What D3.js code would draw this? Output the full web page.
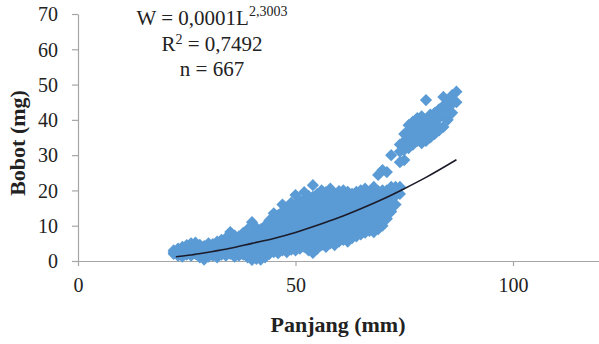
<!DOCTYPE html>
<html>
<head>
<meta charset="utf-8">
<script src="https://cdn.jsdelivr.net/npm/d3@7"></script>
<style>
  html, body { margin: 0; padding: 0; background: #fff; }
  svg { display: block; }
  text { font-family: "Liberation Serif", "Times New Roman", serif; fill: #222; }
</style>
</head>
<body>
<svg id="chart" width="599" height="344"></svg>
<script>
// ---- Data ----
const panjangKelas = [22,23,24,25,26,27,28,29,30,31,32,33,34,35,36,37,38,39,40,41,42,43,44,45,46,47,48,49,50,51,52,53,54,55,56,57,58,59,60,61,62,63,64,65,66,67,68,69,70,71,72,73,74,75,76,77,78,79,80,81,82,83,84,85,86,87];
const bobotKelas = [
  [2.0,3.0,2.5],
  [1.5,2.8,3.5,2.2],
  [1.2,3.2,2.0,4.0],
  [1.8,3.0,4.5,2.4],
  [2.2,5.0,3.5,1.5],
  [2.0,4.0,3.0,5.2],
  [1.0,3.5,2.5,4.6],
  [0.4,2.8,4.2,3.5,1.8],
  [2.0,3.6,5.0,1.2,4.4],
  [1.5,3.0,4.8,2.4],
  [2.0,4.0,5.5,3.0,1.0],
  [2.5,3.5,5.0,6.0,1.8],
  [1.5,3.0,4.5,6.5,2.2,5.4],
  [2.0,4.0,5.5,8.2,3.0,6.5],
  [1.2,3.0,4.8,6.0,7.2,2.4],
  [2.5,4.0,5.5,7.0,1.5,3.4],
  [1.8,3.5,5.0,6.5,8.0,2.6,4.4],
  [1.0,3.0,4.5,6.0,7.5,9.0,2.0,5.4],
  [0.3,2.5,4.0,5.5,7.0,11.0,8.4,3.2],
  [0.6,2.0,3.8,5.0,6.8,8.0,9.4,4.4],
  [0.4,1.5,3.0,4.5,6.0,7.5,9.0,2.4,5.4],
  [1.0,2.8,4.0,5.6,7.0,8.5,10.0,3.4,6.2],
  [2.0,3.5,5.0,6.5,8.0,9.5,11.5,4.2,7.2],
  [2.5,4.0,5.5,7.0,8.5,10.0,12.0,13.5,6.2],
  [2.2,3.8,5.2,6.8,8.2,9.8,11.2,13.0,4.6,7.4],
  [3.0,4.5,6.0,7.5,9.0,10.5,12.0,14.0,16.0,5.2],
  [2.5,4.0,5.5,7.0,8.5,10.0,11.5,13.0,14.5,6.2,9.2],
  [3.2,4.8,6.4,8.0,9.6,11.2,12.8,14.4,16.5,5.6],
  [3.0,4.5,6.0,7.5,9.0,10.5,12.0,13.5,15.0,18.7,8.2],
  [3.5,5.0,6.5,8.0,9.5,11.0,12.5,14.0,15.5,17.0,7.2],
  [4.0,5.5,7.0,8.5,10.0,11.5,13.0,14.5,16.0,17.5,19.5,9.2],
  [3.0,4.8,6.4,8.0,9.6,11.2,12.8,14.4,16.0,17.6,18.5],
  [2.3,4.2,6.0,7.8,9.5,11.2,13.0,14.8,16.5,18.2,21.5],
  [3.5,5.2,7.0,8.8,10.5,12.2,14.0,15.8,17.5,19.0],
  [4.5,6.2,8.0,9.8,11.5,13.2,15.0,16.8,18.5,20.0],
  [4.0,5.8,7.6,9.4,11.2,13.0,14.8,16.6,18.4,19.5],
  [5.0,6.8,8.6,10.4,12.2,14.0,15.8,17.6,19.4,20.5],
  [4.5,6.4,8.2,10.0,11.8,13.6,15.4,17.2,19.0],
  [5.5,7.2,9.0,10.8,12.6,14.4,16.2,18.0,19.8],
  [6.0,7.8,9.6,11.4,13.2,15.0,16.8,18.6,20.0],
  [5.5,7.4,9.2,11.0,12.8,14.6,16.4,18.2,19.6],
  [6.5,8.2,10.0,11.8,13.6,15.4,17.2,19.0],
  [7.0,8.8,10.6,12.4,14.2,16.0,17.8,19.6],
  [7.5,9.2,11.0,12.8,14.6,16.4,18.2,20.0],
  [8.0,9.8,11.6,13.4,15.2,17.0,18.8,20.5],
  [8.5,10.2,12.0,13.8,15.6,17.4,19.2],
  [8.2,10.0,11.8,13.6,15.4,17.2,19.0,21.0],
  [9.0,10.8,12.6,14.4,16.2,18.0,19.8,24.4],
  [10.0,12.0,14.0,16.0,18.0,20.0,25.8],
  [12.0,14.0,16.0,18.0,20.0,25.2],
  [14.0,16.5,19.0,21.0,30.0],
  [16.0,18.5,21.0],
  [19.0,21.0,28.0,31.0,33.0],
  [28.6,31.5,34.0,36.0],
  [32.0,34.5,37.0,38.5],
  [33.0,35.0,37.0,39.5],
  [34.0,36.0,38.0,40.5,35.0],
  [33.4,35.5,37.5,39.5,41.0],
  [34.0,36.0,38.0,40.0,45.6],
  [35.0,37.0,39.0,41.5],
  [36.0,38.0,40.0,42.0],
  [37.0,38.0,40.5,43.0],
  [38.0,41.0,44.0,46.5],
  [40.0,43.0,45.5],
  [42.0,44.5,47.0],
  [45.0,48.0]
];
// Trend line (power fit) points
const trenPanjang = [22.5, 26, 30, 35, 40, 45, 50, 55, 60, 65, 70, 75, 80, 87];
const trenBobot   = [1.2, 1.7, 2.5, 3.6, 5.0, 6.4, 8.1, 10.1, 12.3, 14.8, 17.5, 20.5, 23.7, 28.7];
const xTicks = [0, 50, 100];
const yTicks = [0, 10, 20, 30, 40, 50, 60, 70];
const labelX = "Panjang (mm)";
const labelY = "Bobot (mg)";

// ---- Build ----
const points = [];
panjangKelas.forEach((p, i) => bobotKelas[i].forEach(b => points.push({p, b})));
const tren = trenPanjang.map((p, i) => ({p, b: trenBobot[i]}));

const svg = d3.select("#chart");
const x = d3.scaleLinear().domain([0, 120]).range([78, 600]);
const y = d3.scaleLinear().domain([0, 70]).range([261, 14]);

// Axes
const gy = svg.append("g").attr("transform", `translate(${x(0)},0)`)
  .call(d3.axisLeft(y).tickValues(yTicks).tickSize(6).tickSizeOuter(0).tickPadding(14));
const gx = svg.append("g").attr("transform", `translate(0,${y(0)})`)
  .call(d3.axisBottom(x).tickValues(xTicks).tickSize(5).tickSizeOuter(0).tickPadding(22));
[gx, gy].forEach(g => {
  g.select(".domain").attr("stroke", "#a6a6a6").attr("stroke-width", 1.2);
  g.selectAll(".tick line").attr("stroke", "#a6a6a6").attr("stroke-width", 1.2);
  g.selectAll(".tick text").style("font-family", "'Liberation Serif', serif")
    .style("font-size", "20px").attr("fill", "#222");
});
gy.selectAll(".tick text").attr("dy", "0.34em");
gx.selectAll(".tick text").attr("dy", "0.2em");

// Points (diamonds)
const diamond = d3.symbol().type(d3.symbolSquare).size(74);
svg.append("g").selectAll("path").data(points).join("path")
  .attr("d", diamond)
  .attr("transform", d => `translate(${x(d.p)},${y(d.b)}) rotate(45)`)
  .attr("fill", "#5b9bd5");

// Trend line
svg.append("path").datum(tren)
  .attr("d", d3.line().x(d => x(d.p)).y(d => y(d.b)).curve(d3.curveMonotoneX))
  .attr("fill", "none").attr("stroke", "#1b1b2a").attr("stroke-width", 1.6);

// Equation text
const eq = svg.append("g").attr("text-anchor", "middle").style("font-size", "21px");
const t1 = eq.append("text").attr("x", 212).attr("y", 25);
t1.append("tspan").text("W = 0,0001L");
t1.append("tspan").attr("dy", -9).style("font-size", "14px").text("2,3003");
const t2 = eq.append("text").attr("x", 212).attr("y", 50.5);
t2.append("tspan").text("R");
t2.append("tspan").style("font-size", "14px").attr("dy", -7).text("2");
t2.append("tspan").attr("dy", 7).text(" = 0,7492");
eq.append("text").attr("x", 212).attr("y", 76).text("n = 667");

// Axis titles
svg.append("text").attr("x", 338).attr("y", 332).attr("text-anchor", "middle")
  .style("font-size", "22px").style("font-weight", "bold").text(labelX);
svg.append("text").attr("transform", "translate(25,143) rotate(-90)").attr("text-anchor", "middle")
  .style("font-size", "22px").style("font-weight", "bold").text(labelY);
</script>
</body>
</html>
